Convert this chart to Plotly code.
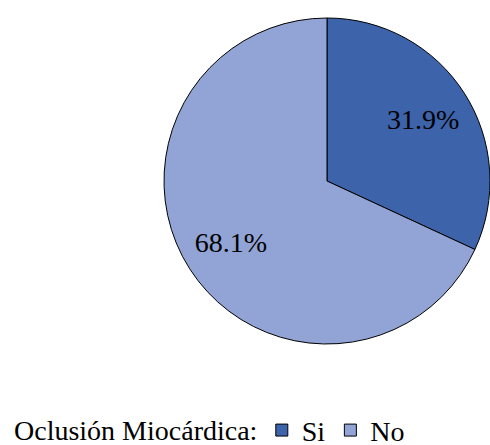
import plotly.graph_objects as go

labels = ["Si", "No"]
values = [31.9, 68.1]
colors = ["#3D63AA", "#91A4D5"]
legend_title = "Oclusión Miocárdica:"

SERIF = "Liberation Serif"

fig = go.Figure()
# Filled slices
fig.add_trace(go.Pie(
    labels=labels,
    values=values,
    sort=False,
    direction="clockwise",
    marker=dict(colors=colors, line=dict(color="#000000", width=1)),
    textinfo="none",
))
# Text layer (transparent ring so labels sit further out)
fig.add_trace(go.Pie(
    labels=labels,
    values=values,
    sort=False,
    direction="clockwise",
    hole=0.4,
    marker=dict(colors=["rgba(0,0,0,0)"] * len(labels), line=dict(width=0)),
    texttemplate="%{value:.1f}%",
    textposition="inside",
    textfont=dict(family=SERIF, size=28, color="#000000"),
    showlegend=False,
))

fig.add_annotation(
    x=-0.466, y=-0.265, xref="paper", yref="paper",
    xanchor="left", yanchor="middle", showarrow=False,
    text=legend_title,
    font=dict(family=SERIF, size=28, color="#000000"),
)

fig.update_layout(
    width=490,
    height=445,
    margin=dict(l=164, r=0, t=18, b=101, autoexpand=False),
    legend=dict(
        orientation="h",
        x=0.30,
        xanchor="left",
        y=-0.265,
        yanchor="middle",
        font=dict(family=SERIF, size=28, color="#000000"),
    ),
)

fig.write_html("out.html")
